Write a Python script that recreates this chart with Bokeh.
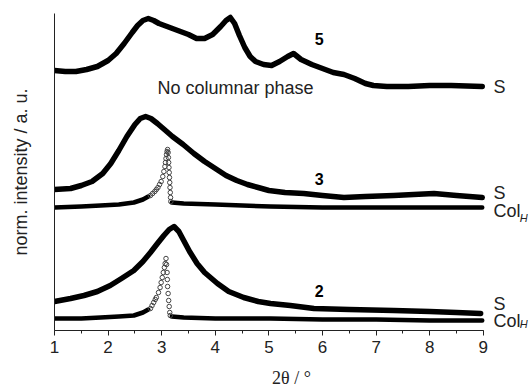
import numpy as np
from bokeh.plotting import figure
from bokeh.models import SingleIntervalTicker, FixedTicker, ColumnDataSource, Label
from bokeh.core.properties import value
from bokeh.embed import file_html
from bokeh.resources import INLINE

# ---- data (2theta in degrees, intensity in arbitrary units, curves offset) ----
s5_x = [1.00, 1.20, 1.40, 1.60, 1.80, 2.00, 2.15, 2.30, 2.45, 2.55, 2.65, 2.75, 2.85, 2.95,
        3.10, 3.30, 3.50, 3.65, 3.80, 3.95, 4.10, 4.20, 4.28, 4.36, 4.45, 4.55, 4.65, 4.75,
        4.90, 5.05, 5.20, 5.35, 5.46, 5.60, 5.80, 6.00, 6.20, 6.40, 6.60, 6.80, 6.95, 7.20,
        7.60, 8.00, 8.40, 8.98]
s5_y = [260, 259, 259, 261, 264, 270, 277, 287, 298, 305, 310, 312, 310, 307,
        304, 300, 296, 292, 292, 296, 304, 310, 313, 307, 295, 283, 274, 269,
        266, 265, 269, 274, 277, 271, 266, 262, 258, 256, 252, 247, 245, 244,
        244, 245, 245, 244]

s3_x = [1.00, 1.30, 1.50, 1.70, 1.90, 2.05, 2.20, 2.35, 2.50, 2.60, 2.70, 2.80, 2.92, 3.05,
        3.20, 3.40, 3.60, 3.80, 4.00, 4.20, 4.40, 4.60, 4.80, 5.00, 5.30, 5.65, 6.00, 6.40,
        6.80, 7.33, 7.70, 8.08, 8.50, 8.98]
s3_y = [141, 142, 145, 149, 157, 167, 180, 194, 206, 212, 214, 212, 207, 201,
        194, 186, 177, 169, 162, 155, 150, 146, 143, 140, 138, 137, 135, 133,
        134, 135, 136, 137, 135, 133]

col3_x = [1.00, 1.50, 1.86, 2.20, 2.48, 2.65, 2.75, 2.79, 2.83, 2.87, 2.90, 2.93, 2.96, 2.99,
          3.02, 3.04, 3.06, 3.07, 3.08, 3.09, 3.10, 3.11, 3.12, 3.125, 3.13, 3.135, 3.14,
          3.145, 3.15, 3.155, 3.16, 3.165, 3.17, 3.19, 3.41, 4.00, 5.03, 6.00, 7.00, 8.00, 8.98]
col3_y = [123, 124, 125, 126, 128, 131, 134, 135, 137, 139, 141, 143, 146, 149,
          154, 159, 164, 168, 172, 176, 179, 181, 178, 173, 168, 163, 158,
          153, 148, 143, 138, 133, 129, 128, 127, 126, 124, 123, 123, 123, 123]

s2_x = [1.00, 1.30, 1.55, 1.80, 2.04, 2.25, 2.48, 2.65, 2.79, 2.92, 3.04, 3.14, 3.23, 3.32,
        3.41, 3.52, 3.66, 3.80, 4.04, 4.25, 4.53, 4.80, 5.03, 5.40, 5.84, 6.50, 7.33, 8.00,
        8.50, 8.95]
s2_y = [29, 32, 35, 39, 45, 52, 60, 69, 78, 87, 95, 101, 104, 99,
        90, 79, 67, 58, 47, 39, 33, 29, 27, 25, 22, 21, 20, 19,
        18, 17]

col2_x = [1.00, 1.50, 1.86, 2.20, 2.48, 2.65, 2.75, 2.79, 2.82, 2.85, 2.88, 2.90, 2.94, 2.97,
          2.99, 3.01, 3.03, 3.05, 3.065, 3.08, 3.09, 3.10, 3.105, 3.11, 3.12, 3.13, 3.14,
          3.15, 3.16, 3.19, 3.41, 4.00, 5.03, 6.00, 7.00, 8.00, 8.98]
col2_y = [12, 12, 13, 14, 15, 18, 21, 22, 25, 28, 31, 33, 38, 43,
          48, 53, 58, 63, 67, 72, 66, 58, 51, 44, 37, 30, 24,
          18, 15, 14, 13, 12, 12, 11, 11, 10, 10]

peak_window = (2.77, 3.18)

FONT = "Liberation Sans"

p = figure(width=530, height=390, output_backend="svg", toolbar_location=None,
           x_range=(1, 9.843), y_range=(0, 317),
           min_border_left=54, min_border_right=2, min_border_top=13, min_border_bottom=60)
p.outline_line_color = None
p.grid.grid_line_color = None
p.background_fill_color = "white"
p.border_fill_color = "white"

# x axis
p.xaxis.bounds = (1, 9)
p.xaxis.ticker = SingleIntervalTicker(interval=1, num_minor_ticks=2)
p.xaxis.major_tick_in = 0
p.xaxis.major_tick_out = 5
p.xaxis.minor_tick_in = 0
p.xaxis.minor_tick_out = 3
p.xaxis.axis_line_color = "#222222"
p.xaxis.major_tick_line_color = "#222222"
p.xaxis.minor_tick_line_color = "#222222"
p.xaxis.major_label_text_font = FONT
p.xaxis.major_label_text_font_size = "17px"
p.xaxis.major_label_text_color = "#222222"
p.xaxis.major_label_standoff = 5
p.xaxis.axis_label = "2θ / °"
p.xaxis.axis_label_text_font = "Liberation Serif"
p.xaxis.axis_label_text_font_style = "normal"
p.xaxis.axis_label_text_font_size = "18px"
p.xaxis.axis_label_text_color = "#222222"
p.xaxis.axis_label_standoff = 12

# y axis
p.yaxis.ticker = FixedTicker(ticks=[])
p.yaxis.axis_line_color = "#222222"
p.yaxis.major_tick_line_color = None
p.yaxis.minor_tick_line_color = None
p.yaxis.axis_label = "norm. intensity / a. u."
p.yaxis.axis_label_text_font = FONT
p.yaxis.axis_label_text_font_style = "normal"
p.yaxis.axis_label_text_font_size = "18px"
p.yaxis.axis_label_text_color = "#222222"
p.yaxis.axis_label_standoff = 24

# S curves: dense overlapping markers -> thick band
for xs, ys in [(s5_x, s5_y), (s3_x, s3_y), (s2_x, s2_y)]:
    p.line(xs, ys, line_width=5.5, line_color="black", line_join="round", line_cap="round")

# Col_H curves: thick baseline, sharp peak drawn with open circles
for xs, ys in [(col3_x, col3_y), (col2_x, col2_y)]:
    xa = np.array(xs); ya = np.array(ys)
    left = xa <= peak_window[0]
    right = xa >= peak_window[1]
    mid = ~(left | right)
    p.line(xa[left], ya[left], line_width=4.5, line_color="black", line_join="round", line_cap="round")
    p.line(xa[right], ya[right], line_width=4.5, line_color="black", line_join="round", line_cap="round")
    p.scatter(xa[mid], ya[mid], marker="circle", size=4.5, fill_color=None,
              line_color="#444444", line_width=1)

# annotations
lab = ColumnDataSource(dict(x=[5.94, 5.94, 5.94], y=[292, 152, 40], t=["5", "3", "2"]))
p.text(x="x", y="y", text="t", source=lab, text_font=value(FONT), text_font_size="16px",
       text_font_style="bold", text_align="center", text_baseline="middle", text_color="black")

p.text(x=[2.92], y=[243], text=["No columnar phase"], text_font=value(FONT),
       text_font_size="18px", text_align="left", text_baseline="middle", text_color="#222222")

side_x = [9.19, 9.19, 9.19, 9.19, 9.19]
side_y = [244, 138, 120, 27, 10]
side_t = ["S", "S", "Col", "S", "Col"]
for sx, sy, st in zip(side_x, side_y, side_t):
    p.add_layout(Label(x=sx, y=sy, text=st, text_font=FONT, text_font_size="18px",
                       text_align="left", text_baseline="middle", text_color="#222222"))

for sy in [107, 1]:
    p.add_layout(Label(x=9.68, y=sy, text="H", text_font=FONT, text_font_size="11px",
                       text_font_style="italic", text_align="left", text_baseline="bottom",
                       text_color="#222222"))

open("out.html", "w").write(file_html(p, INLINE))
